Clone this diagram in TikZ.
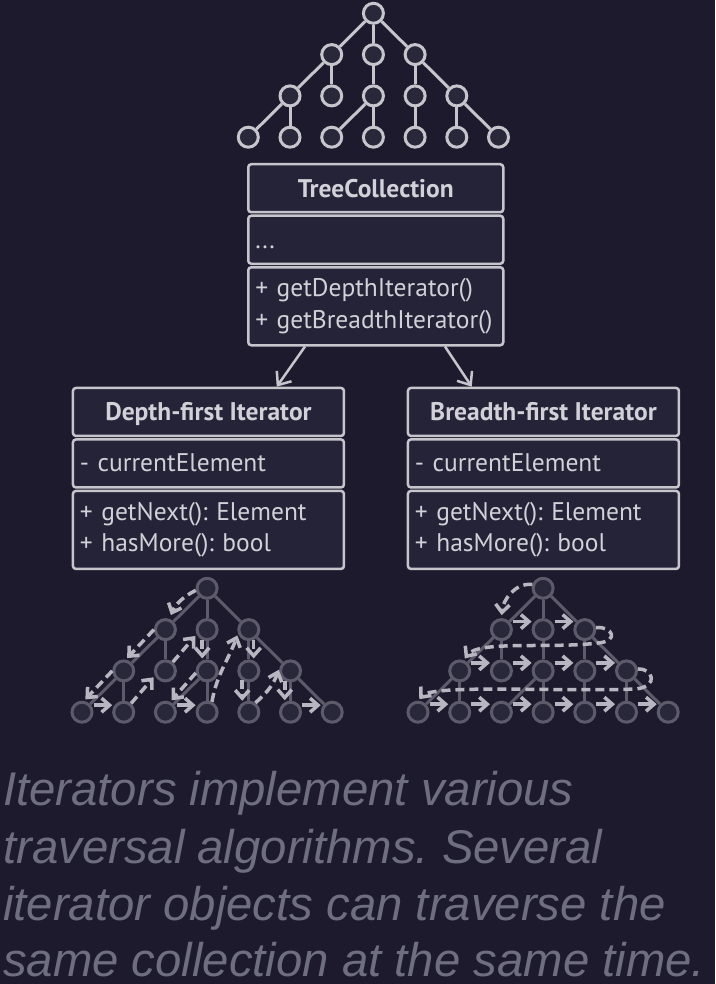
\documentclass[tikz,border=0pt]{standalone}
\usepackage{fontspec}
\usetikzlibrary{positioning,arrows.meta}
\newfontfamily\umlfont{PT Sans}
\newfontfamily\capfont{Liberation Sans}
\frenchspacing

\definecolor{bgcol}{HTML}{1C1A2C}
\definecolor{boxcol}{HTML}{252338}
\definecolor{linecol}{HTML}{C6C5CC}
\definecolor{txtcol}{HTML}{D2D1D8}
\definecolor{dimcol}{HTML}{5D5B6B}
\definecolor{dimfill}{HTML}{29273A}
\definecolor{walkcol}{HTML}{B8B6C1}
\definecolor{capcol}{HTML}{6F6D80}

\tikzset{
	bright node/.style={circle, draw=linecol, fill=dimfill, line width=3pt, minimum size=20pt, inner sep=0pt},
	bright edge/.style={draw=linecol, line width=3pt},
	dim node/.style={circle, draw=dimcol, fill=dimfill, line width=3pt, minimum size=20pt, inner sep=0pt},
	dim edge/.style={draw=dimcol, line width=3pt},
	compartment/.style={draw=linecol, fill=boxcol, line width=2.5pt, rounded corners=3pt, inner sep=0pt,
		text=txtcol, font=\umlfont\fontsize{25.5}{31.5}\selectfont},
	classname/.style={compartment, minimum height=48pt, text height=18pt, text depth=0pt,
		font=\umlfont\bfseries\fontsize{25.5}{30}\selectfont},
	fields/.style={compartment, minimum height=48pt, text width=#1, text height=17pt, text depth=0pt,
		align=left, inner xsep=7pt},
	methods/.style={compartment, minimum height=78pt, text width=#1, align=left, inner xsep=7pt},
	walk/.style={draw=walkcol, line width=3.5pt, dash pattern=on 9pt off 5pt,
		-{Straight Barb[length=8pt,width=14pt]}, shorten >=2pt},
	hop/.style={draw=walkcol, line width=3.5pt, -{Straight Barb[length=8pt,width=14pt]}},
	assoc/.style={draw=linecol, line width=2.5pt, -{Straight Barb[length=11pt,width=18pt]}},
	caption/.style={font=\capfont\itshape\fontsize{47.3}{57}\selectfont, text=capcol, inner sep=0pt, anchor=base west}
}

% #1 name prefix, #2 x of first column, #3 y of root, #4 look (bright/dim)
\newcommand{\drawtree}[4]{%
	\foreach \lvl/\cols in {0/{3}, 1/{2,3,4}, 2/{1,2,3,4,5}, 3/{0,1,2,3,4,5,6}}
		\foreach \col in \cols
			\node[#4 node] (#1-\lvl-\col) at ({#2+41.7*\col}, {#3+41.3*\lvl}) {};
	\foreach \from/\to in {0-3/1-2, 0-3/1-3, 0-3/1-4, 1-2/2-1, 1-2/2-2, 1-3/2-3, 1-4/2-4, 1-4/2-5,
			2-1/3-0, 2-1/3-1, 2-3/3-2, 2-3/3-3, 2-4/3-4, 2-5/3-5, 2-5/3-6}
		\draw[#4 edge] (#1-\from) -- (#1-\to);
}

\begin{document}
\begin{tikzpicture}[x=1pt, y=-1pt]
	\fill[bgcol] (0,0) rectangle (715,984);
	\useasboundingbox (0,0) rectangle (715,984);

	% collection tree
	\drawtree{t}{248.3}{13.3}{bright}

	% classes
	\node[classname, minimum width=255pt, anchor=north west] (tc) at (247,163) {TreeCollection};
	\node[fields=241pt, below=1pt of tc] (tcf) {...};
	\node[methods=241pt, below=1pt of tcf] (tcm) {+ getDepthIterator()\\+ getBreadthIterator()};

	\node[classname, minimum width=271pt, anchor=north west] (dfh) at (71.7,386.7) {Depth-first Iterator};
	\node[fields=257pt, below=1pt of dfh] (dff) {- currentElement};
	\node[methods=257pt, below=1pt of dff] (dfm) {+ getNext(): Element\\+ hasMore(): bool};

	\node[classname, minimum width=271pt, anchor=north west] (bfh) at (406.7,386.7) {Breadth-first Iterator};
	\node[fields=257pt, below=1pt of bfh] (bff) {- currentElement};
	\node[methods=257pt, below=1pt of bff] (bfm) {+ getNext(): Element\\+ hasMore(): bool};

	\draw[assoc] ([xshift=58pt]tcm.south west) -- ([xshift=205pt]dfh.north west);
	\draw[assoc] ([xshift=198pt]tcm.south west) -- ([xshift=65pt]bfh.north west);

	% depth-first walk
	\drawtree{d}{82}{588.3}{dim}
	\draw[walk, shorten >=4pt] (d-0-3.190) to[bend right=20] (d-1-2.70);
	\draw[walk] (d-1-2.180) -- (d-2-1.80);
	\draw[walk] (d-2-1.180) -- (d-3-0.80);
	\draw[hop] ([yshift=7pt]d-3-0.east) -- ([yshift=7pt]d-3-1.west);
	\draw[walk] (d-3-1.50) -- (d-2-2.205);
	\draw[walk] (d-2-2.50) -- (d-1-3.205);
	\draw[walk] (d-1-3.245) -- (d-2-3.115);
	\draw[walk] (d-2-3.190) -- (d-3-2.65);
	\draw[hop] ([yshift=7pt]d-3-2.east) -- ([yshift=7pt]d-3-3.west);
	\draw[walk] (d-3-3.65) to[out=80, in=250] (d-1-4.200);
	\draw[walk] (d-1-4.295) -- (d-2-4.65);
	\draw[walk] (d-2-4.235) -- (d-3-4.125);
	\draw[walk] (d-3-4.55) to[bend right=15] (d-2-5.165);
	\draw[walk] (d-2-5.240) -- (d-3-5.120);
	\draw[hop] ([yshift=7pt]d-3-5.east) -- ([yshift=7pt]d-3-6.west);

	% breadth-first walk
	\drawtree{b}{418}{588.3}{dim}
	\draw[walk, shorten >=3pt] (b-0-3.160) to[out=175, in=85] (b-1-2.north);
	\foreach \a/\b in {1-2/1-3, 1-3/1-4, 2-1/2-2, 2-2/2-3, 2-3/2-4, 2-4/2-5,
			3-0/3-1, 3-1/3-2, 3-2/3-3, 3-3/3-4, 3-4/3-5, 3-5/3-6}
		\draw[hop] ([yshift=8pt]b-\a.east) -- ([yshift=8pt]b-\b.west);
	\draw[walk] (b-1-4.10) .. controls (612,626) and (620,641) .. (598,643)
		.. controls (550,649) and (478,640) .. (b-2-1.70);
	\draw[walk] (b-2-5.10) .. controls (652,668) and (660,686) .. (636,689)
		.. controls (560,692) and (432,684) .. (b-3-0.north);

	% caption
	\node[caption] (cap1) at (3,805) {Iterators implement various};
	\node[caption] (cap2) at (3,863) {traversal algorithms. Several};
	\node[caption] (cap3) at (3,920) {iterator objects can traverse the};
	\node[caption] (cap4) at (3,976) {same collection at the same time.};
\end{tikzpicture}
\end{document}
